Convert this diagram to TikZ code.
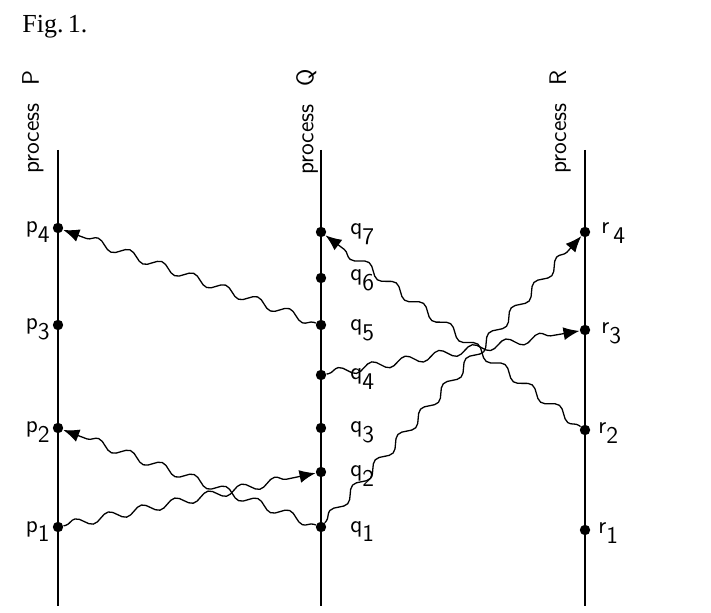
\documentclass[tikz,border=0pt]{standalone}
\usepackage{fontspec}
\newfontfamily\figfont{Liberation Serif}
\usetikzlibrary{decorations.pathmorphing, arrows.meta}
\tikzset{
x=0.5pt, y=-0.5pt, % one unit is one pixel of the scan
>={Latex[length=8pt,width=6.5pt]}, % filled heads like the figure
event/.style={circle, fill, inner sep=0pt, minimum size=5.2pt}, % the dots
proc/.style={line width=1pt},
msg/.style={->, line width=0.65pt, decorate,
  decoration={snake, amplitude=2.2pt, segment length=17pt, pre length=1pt, post length=8pt}},
lbl/.style={font=\sffamily\large, inner sep=0pt},
plbl/.style={font=\sffamily\large, rotate=90, inner sep=0pt},
}
\newcommand{\ev}[2]{#1\raisebox{-0.85ex}{#2}}

\begin{document}
\begin{tikzpicture}
    \useasboundingbox (0,0) rectangle (711,613);
    \node[anchor=base west, font=\figfont\fontsize{13}{15}\selectfont, inner sep=0pt] (fig) at (22,33) {Fig.\,1.};

    % process lines
    \coordinate (Ptop) at (58,150);  \coordinate (Pbot) at (58,606);
    \coordinate (Qtop) at (321,150); \coordinate (Qbot) at (321,606);
    \coordinate (Rtop) at (585,150); \coordinate (Rbot) at (585,606);
    \draw[proc] (Ptop) -- (Pbot);
    \draw[proc] (Qtop) -- (Qbot);
    \draw[proc] (Rtop) -- (Rbot);
    \node[plbl] (procP) at (33,122) {process\hspace{9pt}P};
    \node[plbl] (procQ) at (307,122) {process\hspace{9pt}Q};
    \node[plbl] (procR) at (560,122) {process\hspace{9pt}R};

    % events
    \node[event] (p4) at (58,228) {};
    \node[event] (p3) at (58,325) {};
    \node[event] (p2) at (58,428) {};
    \node[event] (p1) at (58,527) {};
    \node[event] (q7) at (321,232) {};
    \node[event] (q6) at (321,278) {};
    \node[event] (q5) at (321,325) {};
    \node[event] (q4) at (321,375) {};
    \node[event] (q3) at (321,428) {};
    \node[event] (q2) at (321,472) {};
    \node[event] (q1) at (321,527) {};
    \node[event] (r4) at (585,232) {};
    \node[event] (r3) at (585,330) {};
    \node[event] (r2) at (585,430) {};
    \node[event] (r1) at (585,530) {};

    % labels
    \node[lbl, anchor=base east] (p4l) at (50,233) {\ev{p}{4}};
    \node[lbl, anchor=base east] (p3l) at (50,330) {\ev{p}{3}};
    \node[lbl, anchor=base east] (p2l) at (50,433) {\ev{p}{2}};
    \node[lbl, anchor=base east] (p1l) at (50,532) {\ev{p}{1}};
    \node[lbl, anchor=base west] (q7l) at (350,235) {\ev{q}{7}};
    \node[lbl, anchor=base west] (q6l) at (350,281) {\ev{q}{6}};
    \node[lbl, anchor=base west] (q5l) at (350,331) {\ev{q}{5}};
    \node[lbl, anchor=base west] (q4l) at (350,380) {\ev{q}{4}};
    \node[lbl, anchor=base west] (q3l) at (350,433) {\ev{q}{3}};
    \node[lbl, anchor=base west] (q2l) at (350,477) {\ev{q}{2}};
    \node[lbl, anchor=base west] (q1l) at (350,532) {\ev{q}{1}};
    \node[lbl, anchor=base west] (r4l) at (601,234) {\ev{r\,}{4}};
    \node[lbl, anchor=base west] (r3l) at (601,334) {\ev{r}{3}};
    \node[lbl, anchor=base west] (r2l) at (598,434) {\ev{r}{2}};
    \node[lbl, anchor=base west] (r1l) at (598,534) {\ev{r}{1}};

    % messages
    \draw[msg] (q5) -- (p4);
    \draw[msg] (p1) -- (q2);
    \draw[msg] (q1) -- (p2);
    \draw[msg] (q1) -- (r4);
    \draw[msg] (q4) -- (r3);
    \draw[msg] (r2) -- (q7);
\end{tikzpicture}
\end{document}
